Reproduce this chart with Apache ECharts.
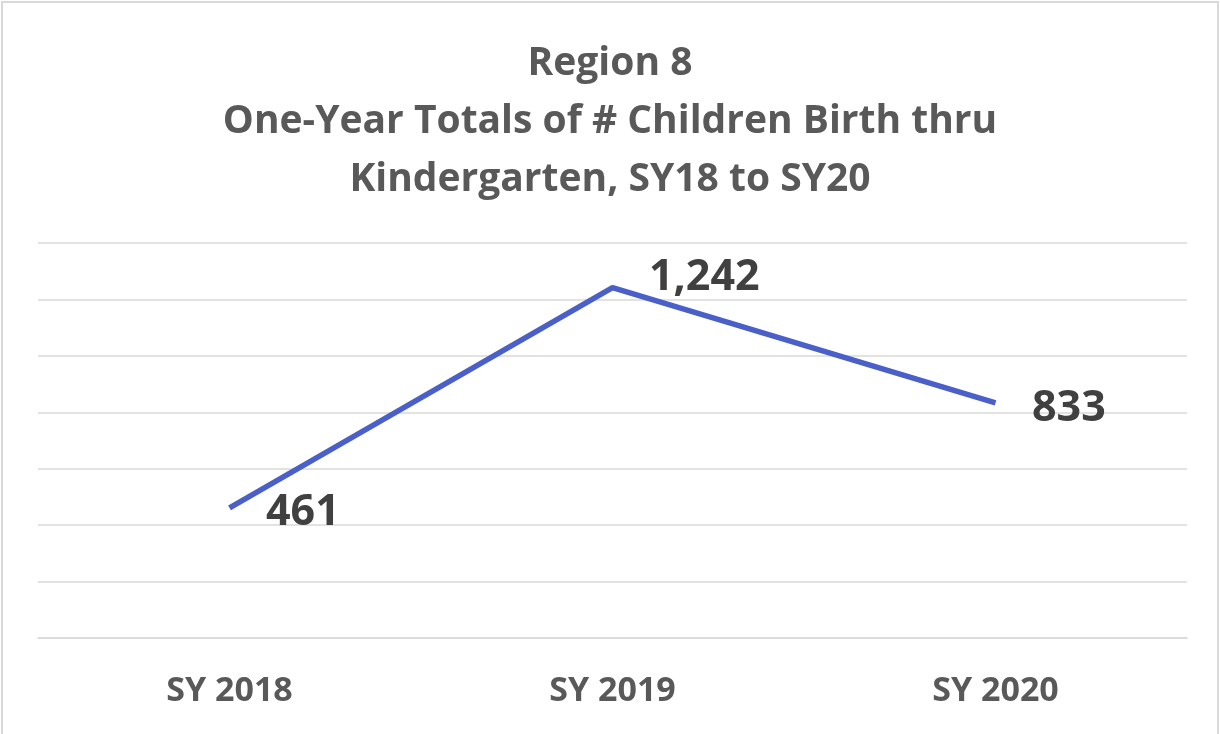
<!DOCTYPE html>
<html><head><meta charset="utf-8">
<script src="https://cdn.jsdelivr.net/npm/echarts@6/dist/echarts.min.js"></script>
<style>html,body{margin:0;padding:0;background:#fff}#c{width:1220px;height:734px}</style>
</head><body><div id="c"></div>
<script>
const titleLines = ['Region 8', 'One-Year Totals of # Children Birth thru', 'Kindergarten, SY18 to SY20'];
const categories = ['SY 2018', 'SY 2019', 'SY 2020'];
const values = [461, 1242, 833];
const labelOffsets = [[0, 5], [0, -10], [0, 6]];

const chart = echarts.init(document.getElementById('c'), null, {renderer: 'canvas'});
chart.setOption({
  backgroundColor: '#ffffff',
  animation: false,
  title: {
    text: titleLines.join('\n'),
    left: 'center', top: 30,
    textStyle: {fontFamily: 'Open Sans', fontWeight: 'bold', fontSize: 39, color: '#595959', lineHeight: 58}
  },
  grid: {left: 38, right: 33, top: 243, bottom: 96},
  xAxis: {
    type: 'category', data: categories, boundaryGap: true,
    axisLine: {show: true, lineStyle: {color: '#d9d9d9', width: 1.5}},
    axisTick: {show: false},
    axisLabel: {margin: 36, fontFamily: 'Open Sans', fontWeight: 'bold', fontSize: 34, color: '#595959'}
  },
  yAxis: {
    type: 'value', min: 0, max: 1400, interval: 200,
    axisLabel: {show: false}, axisLine: {show: false}, axisTick: {show: false},
    splitLine: {lineStyle: {color: '#d9d9d9', width: 1.5}}
  },
  series: [{
    type: 'line', data: values.map((v, i) => ({value: v, label: {offset: labelOffsets[i]}})),
    symbol: 'circle', symbolSize: 1, showSymbol: true,
    itemStyle: {color: 'rgba(0,0,0,0)', borderWidth: 0},
    lineStyle: {color: '#4a5fc8', width: 5.5},
    label: {
      show: true, position: 'right', distance: 36,
      formatter: p => p.value.toLocaleString('en-US'),
      fontFamily: 'Open Sans', fontWeight: 'bold', fontSize: 43, color: '#404040'
    }
  }],
  graphic: [{
    type: 'rect', shape: {x: 2, y: 2, width: 1216, height: 760},
    style: {fill: null, stroke: '#d9d9d9', lineWidth: 2}, silent: true
  }]
});
</script></body></html>
